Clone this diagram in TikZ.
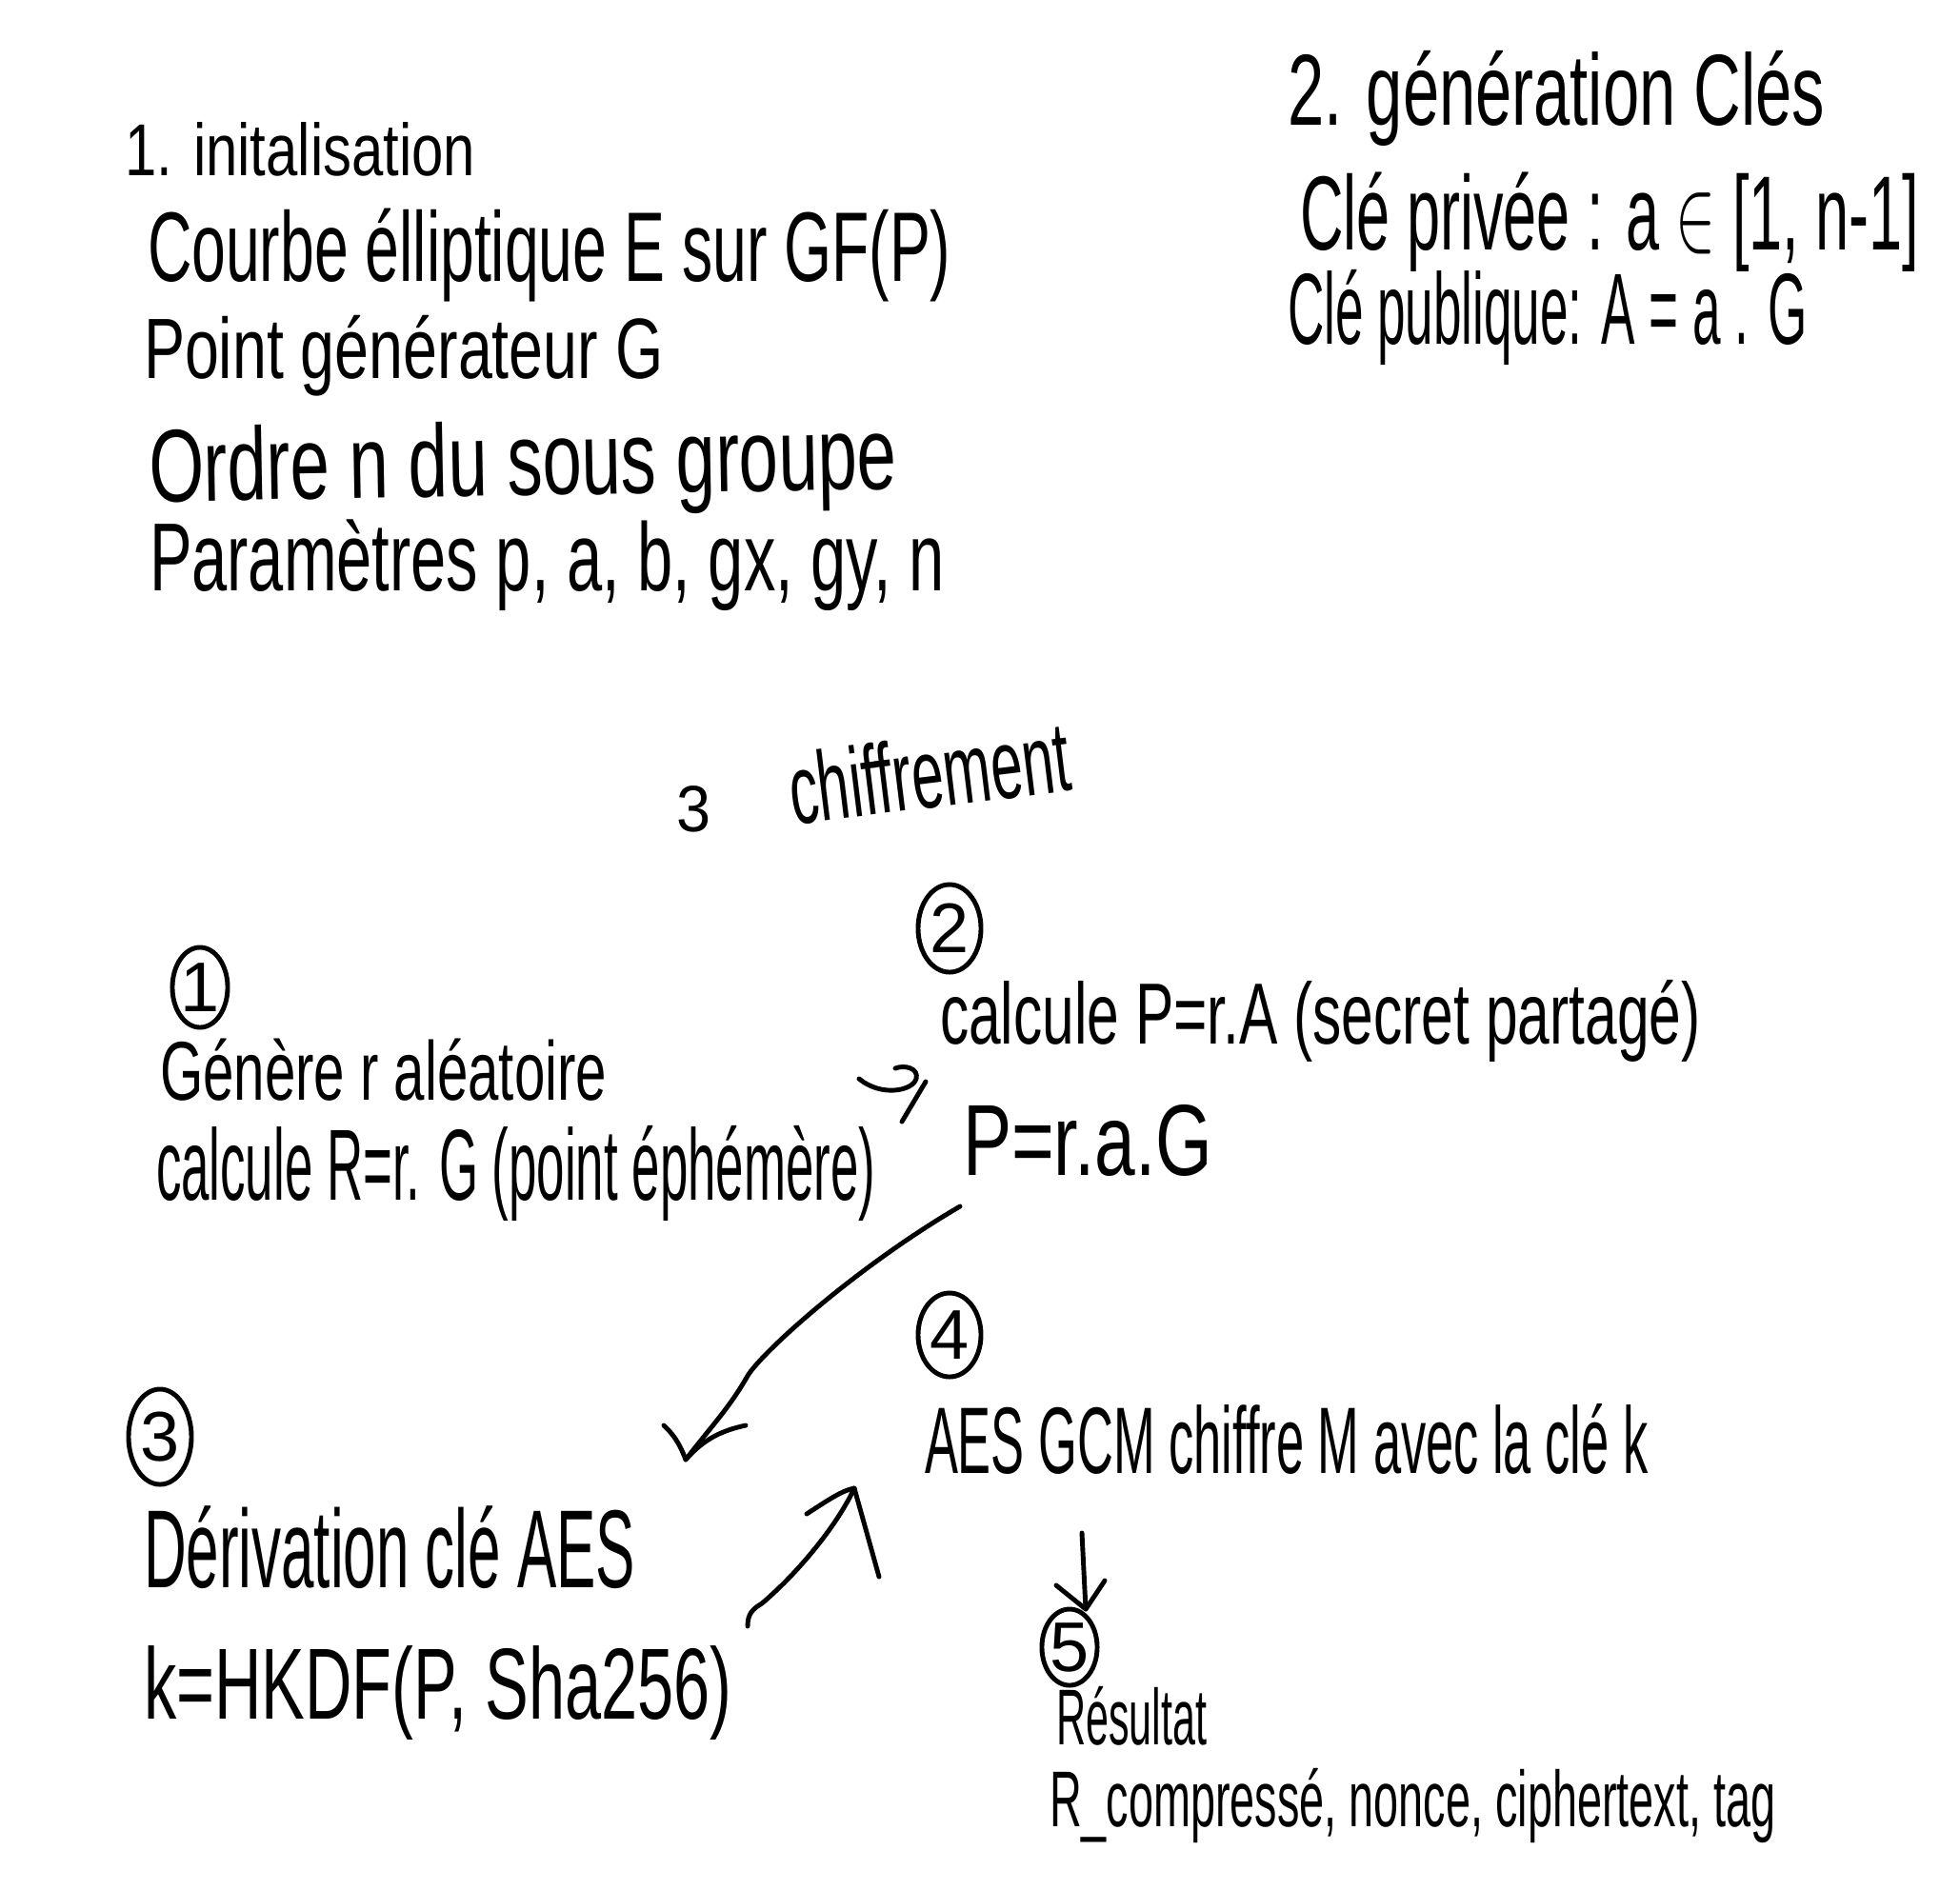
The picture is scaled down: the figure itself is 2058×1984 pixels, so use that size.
\documentclass[tikz,border=0pt]{standalone}
\usepackage{graphicx}
\usepackage{fontspec}
\setmainfont{Liberation Sans}
\usetikzlibrary{shapes.geometric}
\newcommand{\hw}[3]{\resizebox{#1}{#2}{\vphantom{É}#3}}
\tikzset{
  hand/.style={line width=1.4pt, line cap=round, line join=round},
  txt/.style={anchor=base west, inner sep=0pt, outer sep=0pt},
  circnum/.style={draw, ellipse, line width=1.4pt, inner sep=0pt, outer sep=0pt, font=\fontsize{21}{24}\selectfont}
}
\begin{document}
\begin{tikzpicture}[x=0.01cm, y=-0.01cm]
\useasboundingbox (0,0) rectangle (2058,1984);
\fill[white] (0,0) rectangle (2058,1984);

% section 1
\node[txt] (t1) at (131,184) {\hw{3.68cm}{0.67cm}{1. initalisation}};
\node[txt] (t2) at (155,295) {\hw{8.43cm}{0.90cm}{Courbe élliptique E sur GF(P)}};
\node[txt] (t3) at (151,397) {\hw{5.45cm}{0.78cm}{Point générateur G}};
\node[txt, rotate=1] (t4) at (157,527) {\hw{7.85cm}{0.94cm}{Ordre n du sous groupe}};
\node[txt] (t5) at (157,620) {\hw{8.34cm}{0.88cm}{Paramètres p, a, b, gx, gy, n}};

% section 2
\node[txt] (k1) at (1352,131) {\hw{5.64cm}{0.92cm}{2. génération Clés}};
\node[txt] (k2) at (1365,262) {\hw{6.50cm}{0.96cm}{Clé privée : a $\in$ [1, n-1]}};
\node[txt] (k3) at (1352,361) {\hw{5.45cm}{0.92cm}{Clé publique: A = a . G}};

% section 3 title
\node[inner sep=0pt] (s3) at (728,850) {\resizebox{0.36cm}{0.48cm}{3}};
\node[txt, rotate=7] (s3t) at (833,866) {\hw{2.96cm}{0.9cm}{chiffrement}};

% step 1
\node[circnum, minimum width=0.58cm, minimum height=0.84cm] (c1) at (210,1037) {1};
\node[txt] (g1) at (168,1155) {\hw{4.69cm}{0.76cm}{Génère r aléatoire}};
\node[txt] (g2) at (164,1260) {\hw{7.55cm}{0.92cm}{calcule R=r. G (point éphémère)}};

% step 2
\node[circnum, minimum width=0.66cm, minimum height=0.92cm] (c2) at (997,975) {2};
\node[txt] (p1) at (987,1096) {\hw{7.98cm}{0.79cm}{calcule P=r.A (secret partagé)}};
\node[txt] (p2) at (1011,1234) {\hw{2.62cm}{0.92cm}{P=r.a.G}};

% step 3
\node[circnum, minimum width=0.66cm, minimum height=1.0cm] (c3) at (168,1509) {3};
\node[txt] (d1) at (151,1667) {\hw{5.16cm}{1.01cm}{Dérivation clé AES}};
\node[txt] (d2) at (151,1805) {\hw{6.17cm}{0.92cm}{k=HKDF(P, Sha256)}};

% step 4
\node[circnum, minimum width=0.66cm, minimum height=0.88cm] (c4) at (997,1402) {4};
\node[txt] (a1) at (971,1547) {\hw{7.59cm}{0.86cm}{AES GCM chiffre M avec la clé k}};

% step 5
\node[circnum, minimum width=0.52cm, minimum height=0.80cm] (c5) at (1123,1730) {5};
\node[txt] (r1) at (1109,1832) {\hw{1.58cm}{0.72cm}{Résultat}};
\node[txt] (r2) at (1102,1918) {\hw{7.62cm}{0.72cm}{R\_compressé, nonce, ciphertext, tag}};

% connector coordinates
\coordinate (h0) at (902,1133);
\coordinate (h1) at (962,1133);
\coordinate (h2) at (940,1122);
\coordinate (s0) at (972,1136);
\coordinate (s1) at (947,1178);

\coordinate (l0) at (1008,1267);
\coordinate (l1) at (720,1533);
\coordinate (l2) at (697,1497);
\coordinate (l3) at (783,1497);

\coordinate (m0) at (785,1708);
\coordinate (m1) at (897,1563);
\coordinate (m2) at (847,1590);
\coordinate (m3) at (923,1656);

\coordinate (v0) at (1136,1610);
\coordinate (v1) at (1140,1690);
\coordinate (v2) at (1109,1665);
\coordinate (v3) at (1160,1660);

% hook arrow between step 1 and step 2
\draw[hand] (h0) .. controls (925,1152) and (958,1146) .. (h1)
            .. controls (965,1122) and (950,1118) .. (h2);
\draw[hand] (s0) -- (s1);

% long arrow from P=r.a.G to step 3
\draw[hand] (l0) .. controls (900,1330) and (800,1420) .. (785,1445)
            .. controls (765,1480) and (745,1500) .. (l1);
\draw[hand] (l2) .. controls (705,1505) and (712,1512) .. (l1) .. controls (740,1510) and (760,1502) .. (l3);

% arrow from step 3 to step 4
\draw[hand] (m0) .. controls (785,1695) and (790,1690) .. (800,1684)
            .. controls (840,1650) and (880,1600) .. (m1);
\draw[hand] (m2) .. controls (870,1575) and (885,1565) .. (m1) -- (m3);

% arrow from step 4 to step 5
\draw[hand] (v0) -- (v1);
\draw[hand] (v2) -- (v1) -- (v3);
\end{tikzpicture}
\end{document}
